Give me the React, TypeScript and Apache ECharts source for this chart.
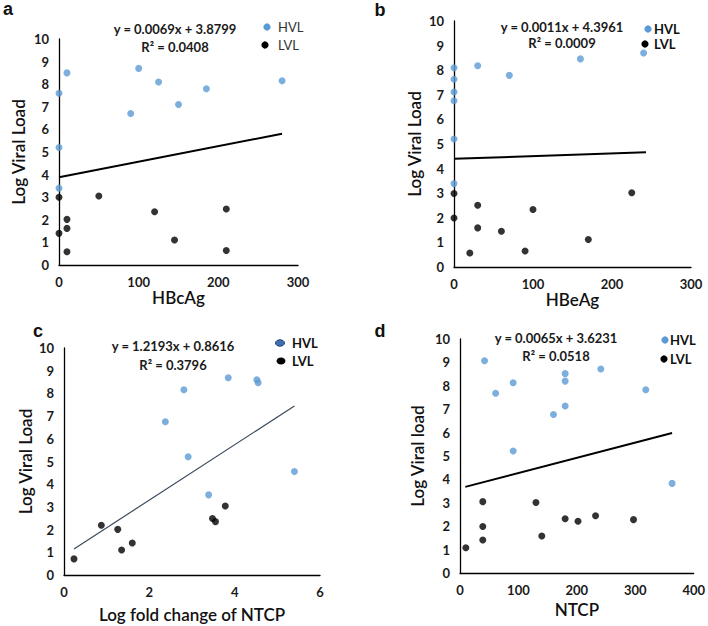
import React, { useEffect, useRef } from 'react';
import * as echarts from 'echarts';

const panelLetters = ['a', 'b', 'c', 'd'];
const xTitles = ['HBcAg', 'HBeAg', 'Log fold change of NTCP', 'NTCP'];
const yTitles = ['Log Viral Load', 'Log Viral Load', 'Log Viral Load', 'Log Viral load'];
const xMaxes = [300, 300, 6, 400];
const xIntervals = [100, 100, 2, 100];
const equationTexts = ['y = 0.0069x + 3.8799', 'y = 0.0011x + 4.3961', 'y = 1.2193x + 0.8616', 'y = 0.0065x + 3.6231'];
const r2Texts = ['R² = 0.0408', 'R² = 0.0009', 'R² = 0.3796', 'R² = 0.0518'];
const slopes = [0.0069, 0.0011, 1.2193, 0.0065];
const intercepts = [3.8799, 4.3961, 0.8616, 3.6231];
const trendFrom = [0, 0, 0.234, 9];
const trendTo = [280, 243, 5.4, 363];

const hvlA: [number, number][] = [
  [0, 7.6], [10, 8.5], [0, 5.2], [0, 3.4], [90, 6.7], [100, 8.7], [125, 8.1], [150, 7.1], [185, 7.8], [280, 8.15],
];
const lvlA: [number, number][] = [
  [0, 3.0], [50, 3.05], [0, 1.4], [10, 2.02], [10, 1.62], [10, 0.59], [120, 2.36], [145, 1.11], [210, 2.48], [210, 0.64],
];
const hvlB: [number, number][] = [
  [0, 8.1], [0, 7.63], [0, 7.11], [0, 6.76], [0, 5.2], [0, 3.39], [30, 8.18], [70, 7.79], [160, 8.46], [240, 8.7],
];
const lvlB: [number, number][] = [
  [0, 2.99], [0, 1.99], [20, 0.57], [30, 2.51], [30, 1.59], [60, 1.45], [90, 0.65], [100, 2.34], [170, 1.12], [225, 3.02],
];
const hvlC: [number, number][] = [
  [2.375, 6.75], [2.81, 8.16], [2.91, 5.21], [3.39, 3.53], [3.85, 8.69], [4.52, 8.6], [4.55, 8.47], [5.4, 4.56],
];
const lvlC: [number, number][] = [
  [0.234, 0.71], [0.875, 2.19], [1.26, 2.01], [1.35, 1.1], [1.6, 1.41], [3.48, 2.49], [3.55, 2.35], [3.78, 3.04],
];
const hvlD: [number, number][] = [
  [42, 9.07], [61, 7.68], [91, 8.13], [91, 5.21], [160, 6.77], [180, 8.52], [180, 8.2], [180, 7.14], [241, 8.72], [318, 7.83], [363, 3.83],
];
const lvlD: [number, number][] = [
  [10, 1.08], [39, 3.05], [39, 1.99], [39, 1.41], [130, 3.01], [140, 1.58], [180, 2.32], [202, 2.21], [232, 2.45], [297, 2.28],
];

const hvlSets = [hvlA, hvlB, hvlC, hvlD];
const lvlSets = [lvlA, lvlB, lvlC, lvlD];

const FONT = 'Lato, "Open Sans", sans-serif';
const BLUE = '#5b9bd5';

// layout
const grids = [
  { left: 59, top: 39, width: 239, height: 226 },
  { left: 454, top: 21, width: 237, height: 246 },
  { left: 64, top: 348, width: 256, height: 227 },
  { left: 460, top: 339, width: 235, height: 234 },
];
const yNameGaps = [32, 31, 30, 34];
const xNameGaps = [21, 18, 31, 28];
const letterPos = [[8, 9], [380, 10], [38, 331], [380, 331]];
const eqPos = [[175, 29, 47], [562, 27, 43], [173, 346, 365], [556, 338, 356]];
const legendPos = [
  { hx: 267, hy: 27, lx: 265, ly: 45, tx: 278, bold: false },
  { hx: 648, hy: 29, lx: 645, ly: 44, tx: 654, bold: true },
  { hx: 280, hy: 343, lx: 281, ly: 361, tx: 292, bold: true },
  { hx: 665, hy: 340, lx: 664, ly: 359, tx: 670, bold: true },
];

export default function App() {
  const ref = useRef<HTMLDivElement>(null);
  useEffect(() => {
    if (!ref.current) return;
    const chart = echarts.init(ref.current, undefined, { renderer: 'svg' });

    const xAxis = grids.map((_, i) => ({
      type: 'value',
      gridIndex: i,
      min: 0,
      max: xMaxes[i],
      interval: xIntervals[i],
      axisLine: { show: true, lineStyle: { color: '#000', width: 1.3 } },
      axisTick: { show: false },
      splitLine: { show: false },
      axisLabel: { fontFamily: FONT, fontWeight: 'bold', fontSize: 13, color: '#1a1a1a', margin: 10 },
      name: xTitles[i],
      nameLocation: 'middle',
      nameGap: xNameGaps[i],
      nameTextStyle: { fontFamily: FONT, fontSize: 17, fontWeight: 600, color: '#111' },
    }));
    const yAxis = grids.map((_, i) => ({
      type: 'value',
      gridIndex: i,
      min: 0,
      max: 10,
      interval: 1,
      axisLine: { show: true, lineStyle: { color: '#000', width: 1.3 } },
      axisTick: { show: false },
      splitLine: { show: false },
      axisLabel: { fontFamily: FONT, fontWeight: 'bold', fontSize: 13, color: '#1a1a1a', margin: 10 },
      name: yTitles[i],
      nameLocation: 'middle',
      nameGap: yNameGaps[i],
      nameRotate: 90,
      nameTextStyle: { fontFamily: FONT, fontSize: 17, fontWeight: 600, color: '#111' },
    }));

    const series: any[] = [];
    grids.forEach((_, i) => {
      series.push({
        type: 'line',
        xAxisIndex: i,
        yAxisIndex: i,
        data: [
          [trendFrom[i], slopes[i] * trendFrom[i] + intercepts[i]],
          [trendTo[i], slopes[i] * trendTo[i] + intercepts[i]],
        ],
        showSymbol: false,
        symbol: 'none',
        lineStyle: i === 2 ? { color: '#3b4a5c', width: 1.2 } : { color: '#000', width: 2 },
        z: 1,
      });
      series.push({
        type: 'scatter',
        name: 'HVL',
        xAxisIndex: i,
        yAxisIndex: i,
        data: hvlSets[i],
        symbolSize: 7,
        itemStyle: { color: BLUE },
        z: 2,
      });
      series.push({
        type: 'scatter',
        name: 'LVL',
        xAxisIndex: i,
        yAxisIndex: i,
        data: lvlSets[i],
        symbolSize: 7,
        itemStyle: { color: '#000' },
        z: 2,
      });
    });

    const graphic: any[] = [];
    grids.forEach((_, i) => {
      graphic.push({
        type: 'text',
        x: letterPos[i][0],
        y: letterPos[i][1],
        style: { text: panelLetters[i], font: `bold 18px Arial, "Liberation Sans", sans-serif`, fill: '#111', textAlign: 'center', textVerticalAlign: 'middle' },
      });
      graphic.push({
        type: 'text',
        x: eqPos[i][0],
        y: eqPos[i][1],
        style: { text: equationTexts[i], font: `bold 13px ${FONT}`, fill: '#1a1a1a', textAlign: 'center', textVerticalAlign: 'middle' },
      });
      graphic.push({
        type: 'text',
        x: eqPos[i][0],
        y: eqPos[i][2],
        style: { text: r2Texts[i], font: `bold 13px ${FONT}`, fill: '#1a1a1a', textAlign: 'center', textVerticalAlign: 'middle' },
      });
      const lp = legendPos[i];
      if (i === 2) {
        graphic.push({ type: 'ellipse', shape: { cx: lp.hx, cy: lp.hy, rx: 4.5, ry: 3.2 }, style: { fill: '#3f6fb5', stroke: '#1f3f73', lineWidth: 1 } });
        graphic.push({ type: 'ellipse', shape: { cx: lp.lx, cy: lp.ly, rx: 4.5, ry: 3.5 }, style: { fill: '#000' } });
      } else {
        graphic.push({ type: 'circle', shape: { cx: lp.hx, cy: lp.hy, r: 3.6 }, style: { fill: BLUE } });
        graphic.push({ type: 'circle', shape: { cx: lp.lx, cy: lp.ly, r: 3.6 }, style: { fill: '#000' } });
      }
      const lf = `${lp.bold ? 'bold ' : ''}13px ${FONT}`;
      graphic.push({ type: 'text', x: lp.tx, y: lp.hy, style: { text: 'HVL', font: lf, fill: lp.bold ? '#111' : '#333', textVerticalAlign: 'middle' } });
      graphic.push({ type: 'text', x: lp.tx, y: lp.ly, style: { text: 'LVL', font: lf, fill: lp.bold ? '#111' : '#333', textVerticalAlign: 'middle' } });
    });

    chart.setOption({
      animation: false,
      backgroundColor: '#fff',
      textStyle: { fontFamily: FONT },
      grid: grids.map((g) => ({ ...g, containLabel: false })),
      xAxis,
      yAxis,
      series,
      graphic,
    });
    return () => chart.dispose();
  }, []);
  return (
    <div
      ref={ref}
      style={{ position: 'absolute', left: 0, top: 0, width: 708, height: 626 }}
    />
  );
}
